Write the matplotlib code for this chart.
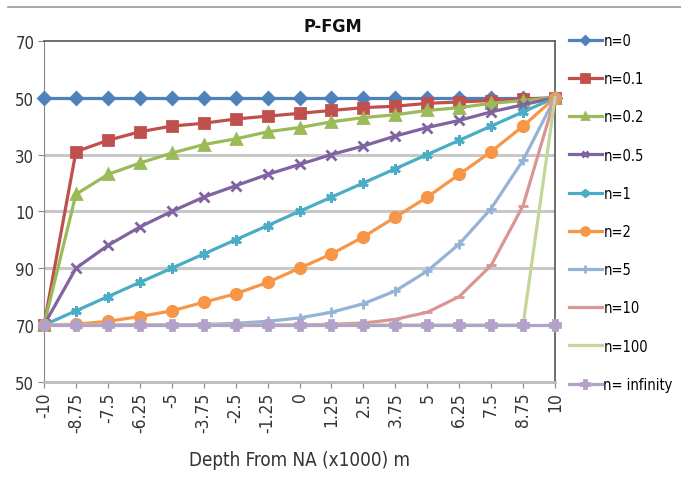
import matplotlib
matplotlib.use("Agg")
import matplotlib.pyplot as plt
from matplotlib.lines import Line2D

plt.rcParams['font.family'] = ['DejaVu Sans']
plt.rcParams['font.stretch'] = 'condensed'

depth = [-10, -8.75, -7.5, -6.25, -5, -3.75, -2.5, -1.25, 0,
         1.25, 2.5, 3.75, 5, 6.25, 7.5, 8.75, 10]
depth_labels = ["-10", "-8.75", "-7.5", "-6.25", "-5", "-3.75", "-2.5", "-1.25", "0",
                "1.25", "2.5", "3.75", "5", "6.25", "7.5", "8.75", "10"]

n_0 = [350] * 17
n_01 = [270, 331, 335, 338, 340, 341, 342.5, 343.5, 344.5, 345.5, 346.5, 347,
        348, 348.5, 349, 349.5, 350]
n_02 = [270, 316, 323, 327, 330.5, 333.5, 335.5, 338, 339.5, 341.5, 343, 344,
        345.5, 346.5, 348, 349, 350]
n_05 = [270, 290, 298, 304.5, 310, 315, 319, 323, 326.5, 330, 333, 336.5,
        339.5, 342, 345, 347.5, 350]
n_1 = [270, 275, 280, 285, 290, 295, 300, 305, 310, 315, 320, 325, 330,
       335, 340, 345, 350]
n_2 = [270, 270.3, 271.3, 273, 275, 278, 281, 285, 290, 295, 301, 308, 315,
       323, 331, 340, 350]
n_5 = [270, 270, 270, 270, 270, 270.2, 270.6, 271.3, 272.5, 274.5, 277.5,
       282, 289, 298.5, 311, 328, 350]
n_10 = [270, 270, 270, 270, 270, 270, 270, 270, 270, 270.3, 270.7, 272,
        274.5, 280, 291, 312, 350]
n_100 = [270] * 16 + [350]
n_inf = [270] * 17

series = [
    ("n=0", n_0, "#4F81BD", "D", 6),
    ("n=0.1", n_01, "#C0504D", "s", 7.5),
    ("n=0.2", n_02, "#9BBB59", "^", 6.5),
    ("n=0.5", n_05, "#8064A2", "x", 6.5),
    ("n=1", n_1, "#4BACC6", (6, 2, 0), 7.5),
    ("n=2", n_2, "#F79646", "o", 7.5),
    ("n=5", n_5, "#95B3D7", "+", 7.5),
    ("n=10", n_10, "#D99694", "_", 7.5),
    ("n=100", n_100, "#C3D69B", None, 0),
    ("n= infinity", n_inf, "#B3A2C7", "P", 7.5),
]

fig = plt.figure(figsize=(6.81, 4.81), dpi=100)
ax = fig.add_axes([0.0646, 0.204, 0.7504, 0.709])

for label, vals, color, marker, ms in series:
    ax.plot(depth, vals, color=color, lw=2.3, marker=marker, markersize=ms,
            markeredgecolor=color, markerfacecolor=color, markeredgewidth=2,
            label=label, clip_on=False, zorder=3)

ax.set_xlim(-10, 10)
ax.set_ylim(250, 370)
yt = [250, 270, 290, 310, 330, 350, 370]
ax.set_yticks(yt)
ax.set_yticklabels([str(v % 100) for v in yt], fontsize=12, color="#333333")
ax.set_xticks(depth)
ax.set_xticklabels(depth_labels, rotation=90, fontsize=12.5, color="#333333")
ax.tick_params(axis='both', length=4, color="#888888", pad=3)

for v in yt[1:-1]:
    ax.axhline(v, color="#C8C8C8", lw=2.2, zorder=1)

for s in ["top", "right"]:
    ax.spines[s].set_color("#555555")
    ax.spines[s].set_linewidth(1.2)
ax.spines["left"].set_color("#888888")
ax.spines["bottom"].set_color("#BBBBBB")
ax.spines["bottom"].set_linewidth(2)

fig.text(0.489, 0.944, "P-FGM", fontsize=13, fontweight="bold", ha="center",
         va="center", color="#111111")
ax.set_xlabel("Depth From NA (x1000) m", fontsize=13.5, color="#333333", labelpad=13)

ax.legend(loc="upper left", bbox_to_anchor=(1.016, 1.040), frameon=False,
          fontsize=10.5, handlelength=2.25, labelspacing=1.59, handletextpad=0.1,
          borderaxespad=0, markerscale=0.75)

fig.add_artist(Line2D([0.012, 1.0], [0.983, 0.983], color="#999999", lw=1.2))

fig.savefig("out.png", dpi=100)
